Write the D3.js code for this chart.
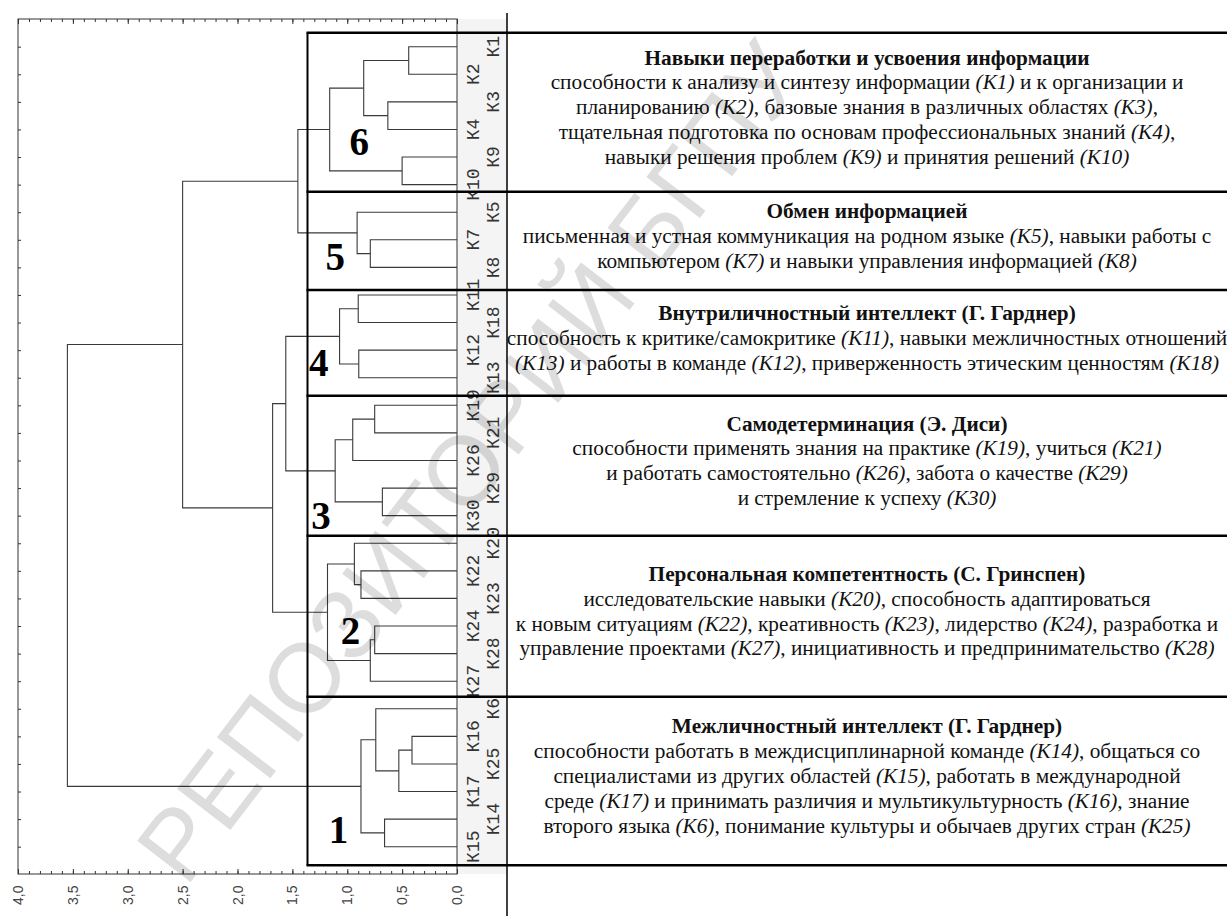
<!DOCTYPE html>
<html>
<head>
<meta charset="utf-8">
<script src="https://cdn.jsdelivr.net/npm/d3@7"></script>
<style>
  body { margin: 0; background: #fff; }
  svg { display: block; }
</style>
</head>
<body>
<div id="chart"></div>
<script>
// leaves of the dendrogram, top to bottom
var leafOrder = ["К1","К2","К3","К4","К9","К10","К5","К7","К8","К11","К18","К12","К13",
  "К19","К21","К26","К29","К30","К20","К22","К23","К24","К28","К27",
  "К6","К16","К25","К17","К14","К15"];

// merges: [child a, child b, linkage distance]; "mN" = result of row N
var merges = [
  ["К1","К2",0.44], ["К3","К4",0.63], ["m0","m1",0.85], ["К9","К10",0.50], ["m2","m3",1.16],
  ["К7","К8",0.79], ["К5","m5",0.91], ["m4","m6",1.45],
  ["К11","К18",0.90], ["К12","К13",0.895], ["m8","m9",1.07],
  ["К19","К21",0.75], ["m11","К26",0.95], ["К29","К30",0.68], ["m12","m13",1.11],
  ["m10","m14",1.56],
  ["К22","К23",0.875], ["К20","m16",0.935], ["К24","К28",0.75], ["m18","К27",0.79], ["m17","m19",1.18],
  ["m15","m20",1.68], ["m7","m21",2.50],
  ["К16","К25",0.41], ["m23","К17",0.53], ["К6","m24",0.74], ["К14","К15",0.66], ["m25","m26",0.875],
  ["m22","m27",3.55]
];

var axisTicks = [4.0, 3.5, 3.0, 2.5, 2.0, 1.5, 1.0, 0.5, 0.0];

// clusters, top to bottom
var clusterIds = ["6","5","4","3","2","1"];
var clusterTitles = [
  "Навыки переработки и усвоения информации",
  "Обмен информацией",
  "Внутриличностный интеллект (Г. Гарднер)",
  "Самодетерминация (Э. Диси)",
  "Персональная компетентность (С. Гринспен)",
  "Межличностный интеллект (Г. Гарднер)"
];
// *...* = italic
var clusterLines = [
  ["способности к анализу и синтезу информации *(К1)* и к организации и",
   "планированию *(К2)*, базовые знания в различных областях *(К3)*,",
   "тщательная подготовка по основам профессиональных знаний *(К4)*,",
   "навыки решения проблем *(К9)* и принятия решений *(К10)*"],
  ["письменная и устная коммуникация на родном языке *(К5)*, навыки работы с",
   "компьютером *(К7)* и навыки управления информацией *(К8)*"],
  ["способность к критике/самокритике  *(К11)*, навыки межличностных отношений",
   "*(К13)* и работы в команде *(К12)*, приверженность этическим ценностям *(К18)*"],
  ["способности применять знания на практике *(К19)*, учиться *(К21)*",
   "и работать самостоятельно *(К26)*, забота о качестве *(К29)*",
   "и стремление к успеху *(К30)*"],
  ["исследовательские навыки *(К20)*, способность адаптироваться",
   "к новым ситуациям *(К22)*, креативность *(К23)*, лидерство *(К24)*, разработка и",
   "управление проектами *(К27)*, инициативность и предпринимательство *(К28)*"],
  ["способности работать в междисциплинарной команде *(К14)*, общаться со",
   "специалистами из других областей *(К15)*, работать в международной",
   "среде *(К17)* и принимать различия и мультикультурность *(К16)*, знание",
   "второго языка *(К6),* понимание культуры и обычаев других стран *(К25)*"]
];

// ---- layout ----
var width = 1227, height = 916;
var plot = {left: 18, right: 457, top: 19, bottom: 874};
var panelLeft = 507;
// box edges in leaf-index units (boxes were drawn by hand in the original)
var boxCuts = [-0.51, 5.26, 8.82, 12.65, 17.73, 23.56, 29.67];
var boxLeft = 307.5;
// cluster numbers: [distance, leaf index of baseline]
var numberAt = [[0.89, 3.93], [1.11, 8.09], [1.26, 11.92], [1.24, 17.48], [0.97, 21.65], [1.08, 28.86]];

var svg = d3.select("#chart").append("svg")
  .attr("width", width).attr("height", height);

var x = d3.scaleLinear().domain([4, 0]).range([plot.left, plot.right]);
var y = d3.scalePoint().domain(leafOrder).range([46.7, 846.7]);
var yIdx = d3.scaleLinear().domain([0, leafOrder.length - 1]).range([46.7, 846.7]);

// label band
svg.append("rect")
  .attr("x", plot.right).attr("y", plot.top)
  .attr("width", panelLeft - plot.right).attr("height", plot.bottom - plot.top)
  .attr("fill", "#f4f4f4");

// axes ticks
var minor = d3.range(0, 41).map(function(d) { return d / 10; });
function tickAxis(axis, tr, vals, size) {
  var g = svg.append("g").attr("transform", tr)
    .call(axis.tickValues(vals).tickSize(size).tickFormat(""));
  g.select(".domain").remove();
  g.selectAll("line").attr("stroke", "#333");
}
tickAxis(d3.axisBottom(x), "translate(0," + plot.top + ")", minor, 3);
tickAxis(d3.axisBottom(x), "translate(0," + plot.top + ")", axisTicks, 5);
tickAxis(d3.axisTop(x), "translate(0," + plot.bottom + ")", minor, 3);
tickAxis(d3.axisTop(x), "translate(0," + plot.bottom + ")", axisTicks, 5);
tickAxis(d3.axisRight(y), "translate(" + plot.left + ",0)", leafOrder, 3);

// frame
svg.append("rect")
  .attr("x", plot.left).attr("y", plot.top)
  .attr("width", plot.right - plot.left).attr("height", plot.bottom - plot.top)
  .attr("fill", "none").attr("stroke", "#333").attr("stroke-width", 1);

// axis labels (rotated)
var fmt = d3.formatLocale({decimal: ",", thousands: " ", grouping: [3], currency: ["", ""]}).format(".1f");
svg.selectAll(".xlab").data(axisTicks).enter().append("text")
  .attr("class", "xlab")
  .attr("transform", function(d) { return "translate(" + x(d) + ",905) rotate(-90)"; })
  .attr("text-anchor", "start")
  .attr("dominant-baseline", "central")
  .attr("font-family", "Arial, 'Liberation Sans', sans-serif")
  .attr("font-size", 14)
  .attr("fill", "#444")
  .text(fmt);

// dendrogram
var nodes = {};
leafOrder.forEach(function(k) { nodes[k] = {h: 0, y: y(k)}; });
var links = [];
merges.forEach(function(m, i) {
  var a = nodes[m[0]], b = nodes[m[1]];
  nodes["m" + i] = {h: m[2], y: (a.y + b.y) / 2};
  links.push({a: a, b: b, h: m[2]});
});
svg.append("g").selectAll("path").data(links).enter().append("path")
  .attr("d", function(d) {
    return "M" + x(d.a.h) + "," + d.a.y + "H" + x(d.h) + "V" + d.b.y + "H" + x(d.b.h);
  })
  .attr("fill", "none").attr("stroke", "#3a3a3a").attr("stroke-width", 1.1);

// leaf labels, two staggered columns
svg.selectAll(".leaf").data(leafOrder).enter().append("text")
  .attr("class", "leaf")
  .attr("transform", function(d, i) {
    return "translate(" + (i % 2 === 0 ? 494 : 474) + "," + y(d) + ") rotate(-90)";
  })
  .attr("text-anchor", "middle")
  .attr("dominant-baseline", "central")
  .attr("font-family", "'Courier New', 'Liberation Mono', monospace")
  .attr("font-size", 18)
  .attr("fill", "#333")
  .text(function(d) { return d; });

// cluster boxes
var cutY = boxCuts.map(yIdx);
svg.append("line")
  .attr("x1", panelLeft).attr("x2", panelLeft).attr("y1", 13).attr("y2", height)
  .attr("stroke", "#000").attr("stroke-width", 1.5);
svg.append("line")
  .attr("x1", boxLeft).attr("x2", boxLeft).attr("y1", cutY[0]).attr("y2", cutY[cutY.length - 1])
  .attr("stroke", "#000").attr("stroke-width", 2);
svg.selectAll(".cut").data(cutY).enter().append("line")
  .attr("x1", boxLeft - 1).attr("x2", width).attr("y1", function(d) { return d; }).attr("y2", function(d) { return d; })
  .attr("stroke", "#000").attr("stroke-width", 2.5);

// cluster numbers
svg.selectAll(".num").data(clusterIds).enter().append("text")
  .attr("x", function(d, i) { return x(numberAt[i][0]); })
  .attr("y", function(d, i) { return yIdx(numberAt[i][1]); })
  .attr("text-anchor", "middle")
  .attr("font-family", "'Times New Roman', 'Liberation Serif', serif")
  .attr("font-weight", "bold")
  .attr("font-size", 39)
  .text(function(d) { return d; });

// description panel
var lineGap = 24.8;
var cx = (panelLeft + width) / 2;
clusterIds.forEach(function(id, i) {
  var lines = [clusterTitles[i]].concat(clusterLines[i]);
  var mid = (cutY[i] + cutY[i + 1]) / 2 - 5;
  lines.forEach(function(line, j) {
    var t = svg.append("text")
      .attr("x", cx)
      .attr("y", mid + (j - (lines.length - 1) / 2) * lineGap)
      .attr("text-anchor", "middle")
      .attr("dominant-baseline", "central")
      .attr("font-family", "'Times New Roman', 'Liberation Serif', serif")
      .attr("font-size", 21.3)
      .attr("fill", "#111");
    if (j === 0) {
      t.attr("font-weight", "bold").text(line);
    } else {
      line.split("*").forEach(function(part, k) {
        if (part === "") return;
        t.append("tspan").attr("font-style", k % 2 ? "italic" : "normal").text(part);
      });
    }
  });
});

// watermark
svg.append("text")
  .attr("transform", "translate(470,462) rotate(-52.5)")
  .attr("text-anchor", "middle")
  .attr("dominant-baseline", "central")
  .attr("font-family", "Arial, 'Liberation Sans', sans-serif")
  .attr("font-size", 98)
  .attr("fill", "#000")
  .attr("opacity", 0.13)
  .text("РЕПОЗИТОРИЙ БГПУ");
</script>
</body>
</html>
